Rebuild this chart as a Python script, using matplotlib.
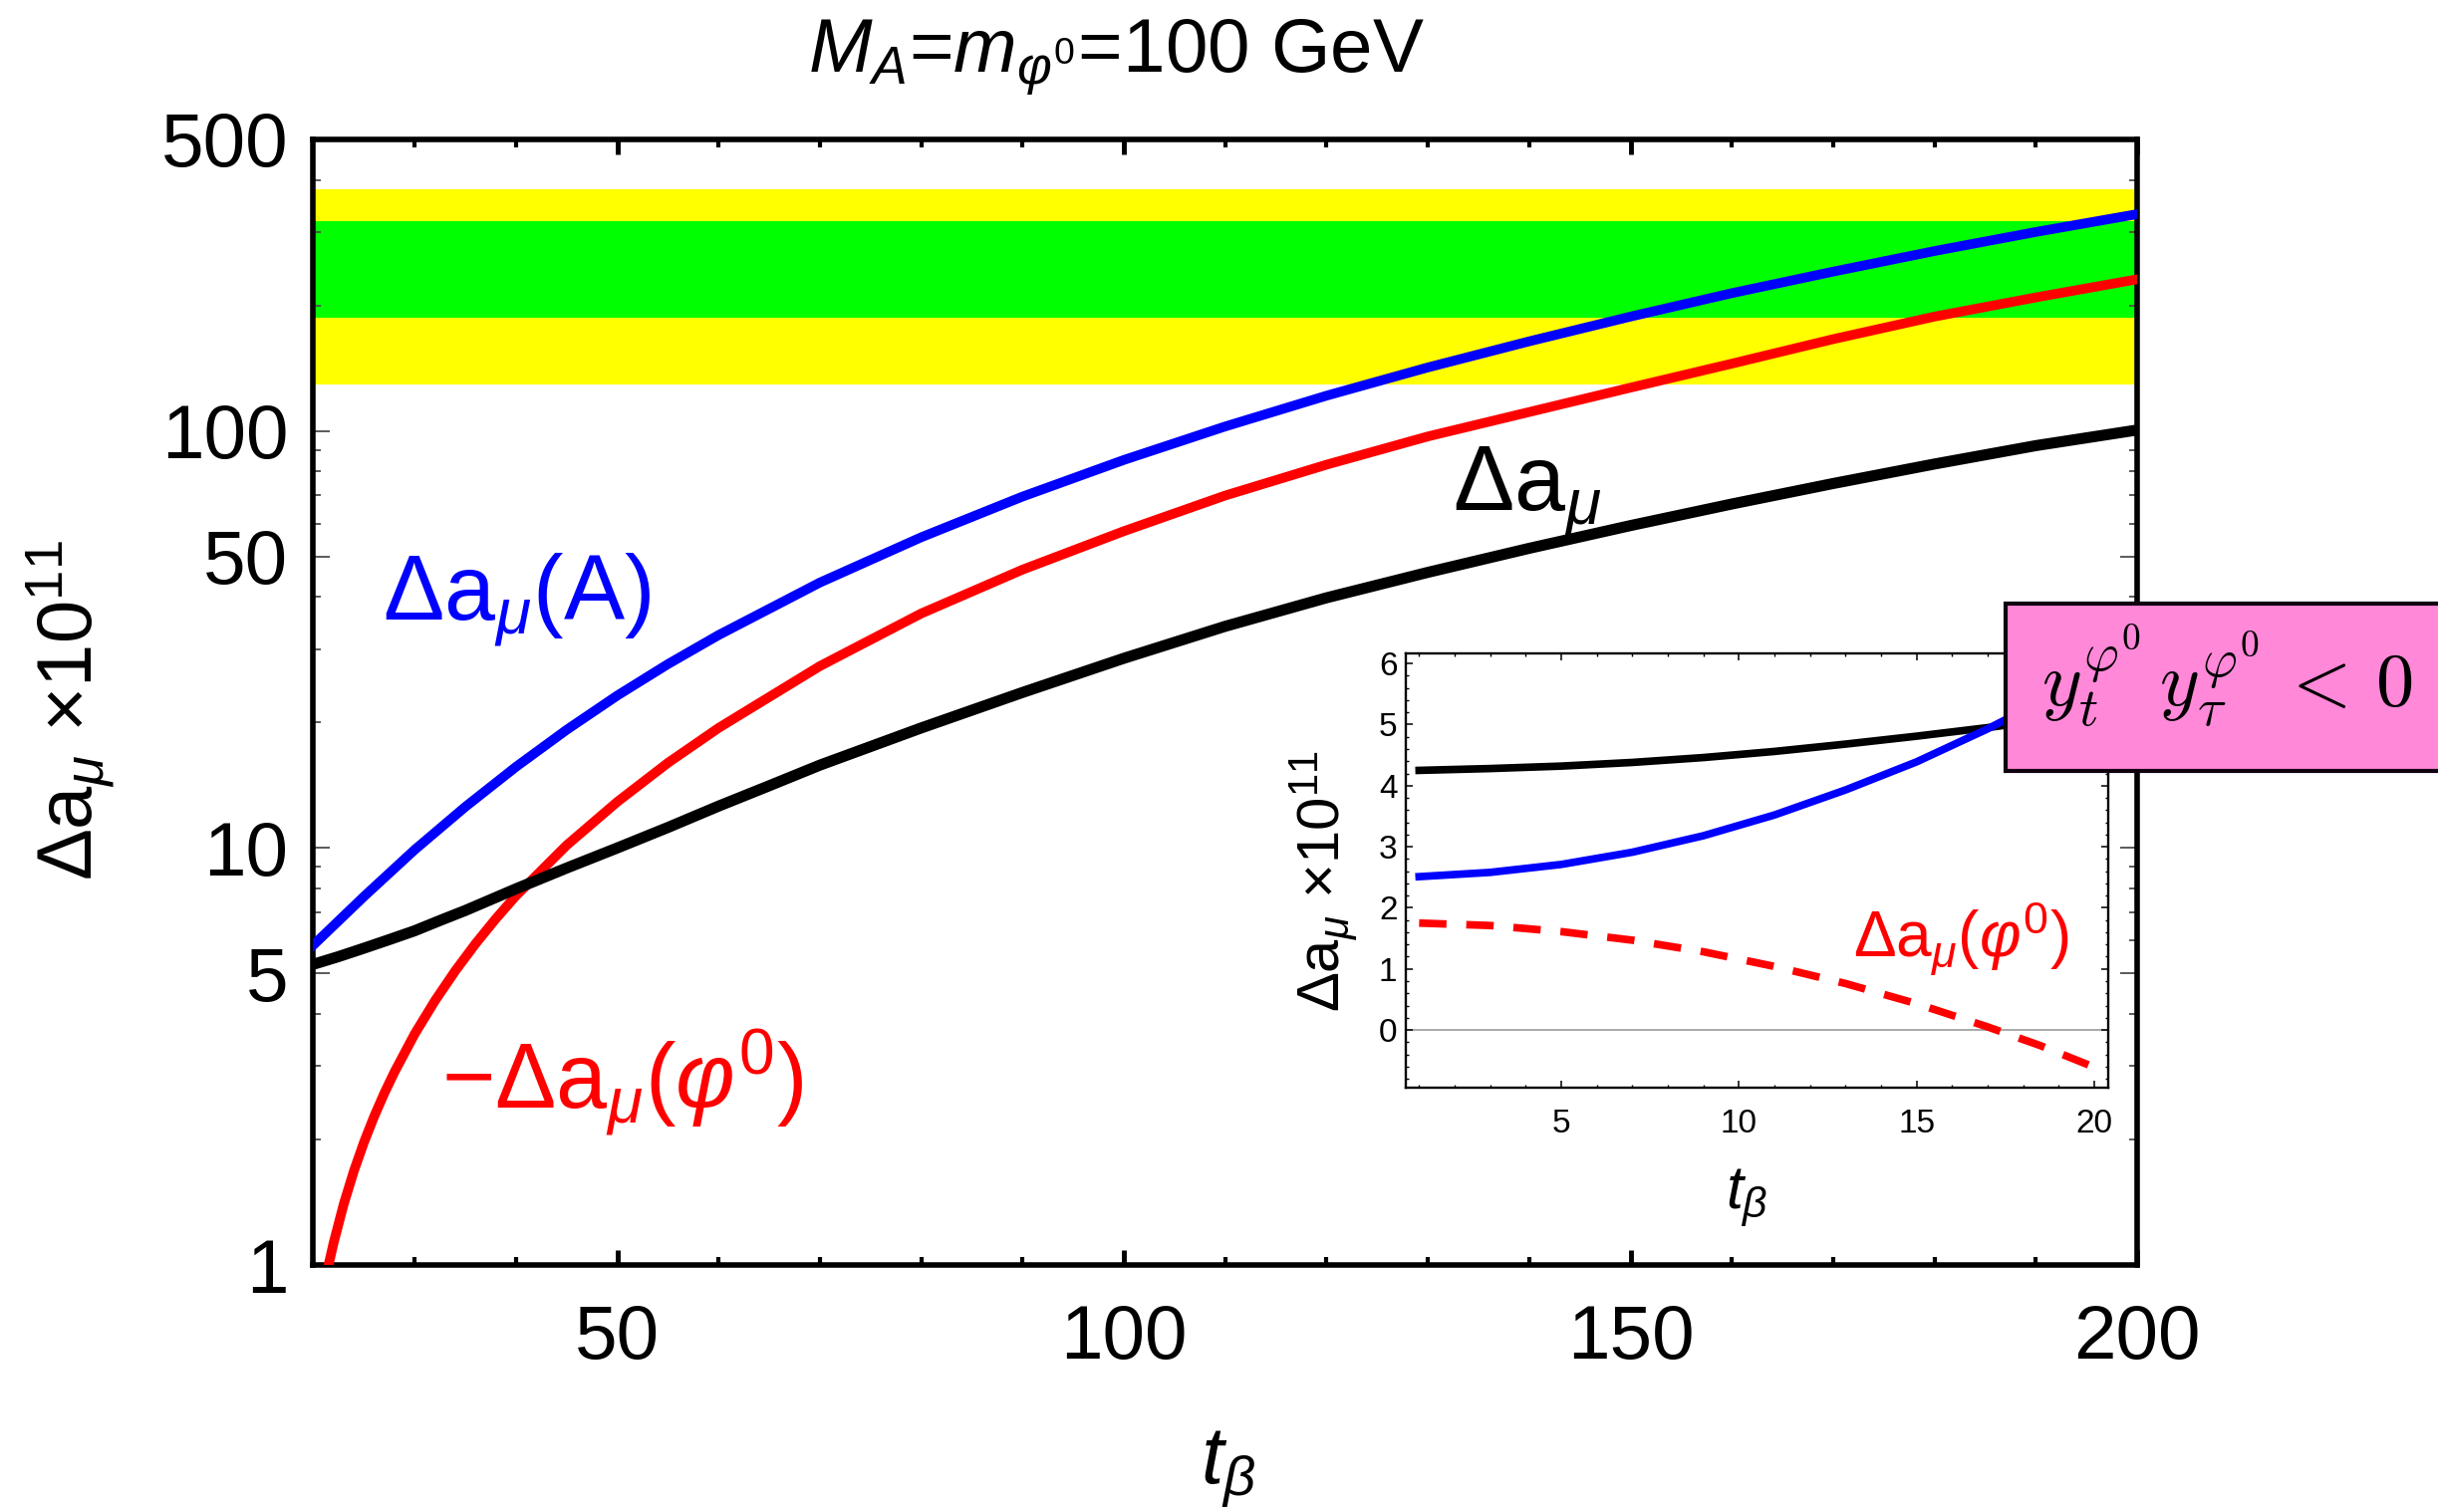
import matplotlib
matplotlib.use('Agg')
import matplotlib.pyplot as plt
from matplotlib.patches import Rectangle
from matplotlib.ticker import FixedLocator, FixedFormatter

plt.rcParams['font.family'] = ['Liberation Sans', 'DejaVu Sans']
plt.rcParams['mathtext.fontset'] = 'custom'
plt.rcParams['mathtext.rm'] = 'Liberation Sans'
plt.rcParams['mathtext.it'] = 'Liberation Sans:italic'
plt.rcParams['mathtext.bf'] = 'Liberation Sans:bold'

# large tan(beta): Delta a_mu x 1e11
t_A = [20, 25, 30, 35, 40, 45, 50, 55, 60, 70, 80, 90, 100, 110, 120,
       130, 140, 150, 160, 170, 180, 190, 200]
da_A = [5.85, 7.65, 9.9, 12.55, 15.65, 19.2, 23.2, 27.6, 32.4, 43.3, 55.6, 69.6,
        85.2, 102.5, 121.5, 142, 164, 188, 214, 241, 270, 300, 331]

t_phi = [21.5, 22, 23, 24, 25, 26, 27, 28, 30, 32, 34, 36, 38, 40, 45, 50, 55,
         60, 70, 80, 90, 100, 110, 120, 130, 140, 150, 160, 170, 180, 190, 200]
minus_da_phi = [1.0, 1.13, 1.4, 1.68, 1.97, 2.27, 2.58, 2.9, 3.58, 4.3, 5.07,
                5.89, 6.76, 7.68, 10.15, 12.9, 16.0, 19.4, 27.3, 36.5, 46.5,
                57.5, 70, 83, 97, 111, 127, 145, 166, 188, 209, 231]

t_tot = [20, 22.5, 25, 27.5, 30, 32.5, 35, 40, 45, 50, 55, 60, 65, 70, 80, 90,
         100, 110, 120, 130, 140, 150, 160, 170, 180, 190, 200]
da_tot = [5.26, 5.49, 5.75, 6.03, 6.33, 6.7, 7.08, 7.98, 8.95, 10.0, 11.2, 12.6,
          14.1, 15.8, 19.4, 23.6, 28.5, 34.0, 39.8, 45.8, 52.3, 59.3, 66.8,
          74.8, 83.3, 92.2, 100.5]

# experimental band (1 and 2 sigma)
band_1s = (187, 318)
band_2s = (129, 380)

# small tan(beta) inset
t_small = [1, 3, 5, 7, 9, 11, 13, 15, 17, 18.5, 20]
small_tot = [4.25, 4.28, 4.32, 4.38, 4.46, 4.56, 4.68, 4.81, 4.95, 5.07, 5.2]
small_A = [2.51, 2.58, 2.71, 2.91, 3.18, 3.52, 3.93, 4.39, 4.93, 5.38, 5.87]
small_phi = [1.75, 1.71, 1.61, 1.47, 1.28, 1.04, 0.76, 0.43, 0.05, -0.26, -0.61]

W, H = 2447, 1518


def fig_box(x0, y0, x1, y1):
    # pixel corners (top-left origin) -> figure fraction rect
    return [x0 / W, 1 - y1 / H, (x1 - x0) / W, (y1 - y0) / H]


fig = plt.figure(figsize=(W / 100, H / 100), dpi=100)

ax = fig.add_axes(fig_box(314.5, 140, 2145, 1270))
ax.set_yscale('log')
ax.axhspan(*band_2s, color='#ffff00', lw=0, zorder=1)
ax.axhspan(*band_1s, color='#00ff00', lw=0, zorder=1.1)
ax.plot(t_A, da_A, color='#0000ff', lw=7, zorder=3, solid_joinstyle='round')
ax.plot(t_phi, minus_da_phi, color='#ff0000', lw=7, zorder=3, solid_joinstyle='round')
ax.plot(t_tot, da_tot, color='black', lw=8, zorder=4, solid_joinstyle='round')
ax.set_xlim(20, 200)
ax.set_ylim(1, 500)

ax.xaxis.set_major_locator(FixedLocator([50, 100, 150, 200]))
ax.xaxis.set_minor_locator(FixedLocator([30, 40, 60, 70, 80, 90, 110, 120, 130, 140,
                                         160, 170, 180, 190]))
yt = [1, 5, 10, 50, 100, 500]
ax.yaxis.set_major_locator(FixedLocator(yt))
ax.yaxis.set_major_formatter(FixedFormatter([str(v) for v in yt]))
ax.yaxis.set_minor_locator(FixedLocator([2, 3, 4, 6, 7, 8, 9, 20, 30, 40, 60, 70, 80, 90,
                                         200, 300, 400]))
ax.yaxis.set_minor_formatter(FixedFormatter([]))
ax.tick_params(axis='x', which='major', direction='in', length=11, width=3.5,
               top=True, labelsize=55, pad=28)
ax.tick_params(axis='x', which='minor', direction='in', length=6, width=3, top=True)
ax.tick_params(axis='y', which='major', direction='in', length=12, width=1.3,
               right=True, labelsize=55, pad=18, color='0.3')
ax.tick_params(axis='y', which='minor', direction='in', length=6, width=1.3,
               right=True, color='0.3')
for s in ax.spines.values():
    s.set_linewidth(4)

ax.text(26.86, 35.2, 'Δa$_\\mu$(A)', color='#0000ff', fontsize=66, va='baseline')
ax.text(32.65, 2.375, '−Δa$_\\mu$($\\varphi^0$)', color='#ff0000', fontsize=66,
        va='baseline')
ax.text(132.4, 64.4, 'Δa$_\\mu$', color='black', fontsize=66, va='baseline')

fig.text(811 / W, 1 - 72 / H, '$M_A$=$m_{\\varphi^0}$=100 GeV', fontsize=55,
         va='baseline', ha='left')
fig.text(1233 / W, 1 - 1490 / H, '$t_\\beta$', fontsize=58, ha='center', va='baseline')
fig.text(71 / W, 1 - 713 / H, 'Δa$_\\mu$ ×10$^{11}$', fontsize=56, rotation=90,
         ha='center', va='center')

# inset
axin = fig.add_axes(fig_box(1410.8, 655.7, 2115.6, 1092.3))
axin.axhline(0, color='0.6', lw=1.2, zorder=1)
axin.plot(t_small, small_tot, color='black', lw=5.5, zorder=3)
axin.plot(t_small, small_A, color='#0000ff', lw=5.5, zorder=3)
axin.plot(t_small, small_phi, color='#ff0000', lw=5.5, dashes=(3.6, 2.6), zorder=3)
axin.set_xlim(0.62, 20.38)
axin.set_ylim(-0.95, 6.17)
axin.xaxis.set_major_locator(FixedLocator([5, 10, 15, 20]))
axin.xaxis.set_minor_locator(FixedLocator(list(range(1, 21))))
axin.yaxis.set_major_locator(FixedLocator(list(range(0, 7))))
axin.yaxis.set_minor_locator(FixedLocator([i * 0.2 for i in range(-4, 31)]))
axin.tick_params(which='major', direction='in', length=5, width=1.1, top=True,
                 right=True, labelsize=24)
axin.tick_params(which='minor', direction='in', length=2.5, width=1, top=True, right=True)
axin.tick_params(axis='x', pad=15)
axin.tick_params(axis='y', pad=6)
for s in axin.spines.values():
    s.set_linewidth(1.7)
axin.text(13.2, 1.19, 'Δa$_\\mu$($\\varphi^0$)', color='#ff0000', fontsize=46,
          va='baseline')
fig.text(1753 / W, 1 - 1213 / H, '$t_\\beta$', fontsize=44, ha='center', va='baseline')
fig.text(1328 / W, 1 - 884 / H, 'Δa$_\\mu$ ×10$^{11}$', fontsize=43, rotation=90,
         ha='center', va='center')

# sign-condition tag, running off the right edge
tag = Rectangle((2013 / W, 1 - 774 / H), (W + 20 - 2013) / W, 168 / H,
                transform=fig.transFigure, facecolor='#ff88d8', edgecolor='#100010',
                lw=3, clip_on=False, zorder=5)
fig.add_artist(tag)
fig.text(2049 / W, 1 - 710 / H, r'$y_t^{\varphi^0}\,y_\tau^{\varphi^0}\,<\,0$',
         fontsize=55, math_fontfamily='cm', ha='left', va='baseline', zorder=6)

fig.savefig('out.png', dpi=100)
